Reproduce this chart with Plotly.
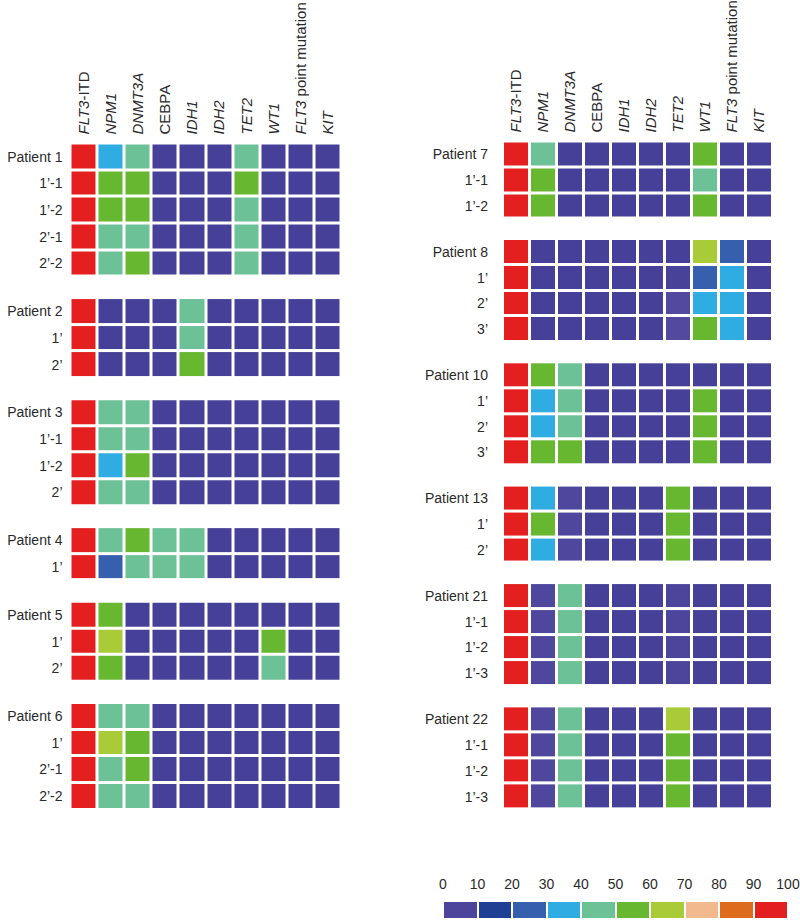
import plotly.graph_objects as go

# ---------------- data ----------------
genes = ["<i>FLT3</i>-ITD", "<i>NPM1</i>", "<i>DNMT3A</i>", "CEBPA", "<i>IDH1</i>",
         "<i>IDH2</i>", "<i>TET2</i>", "<i>WT1</i>", "<i>FLT3</i> point mutation", "<i>KIT</i>"]

# left panel groups (labels, rows of VAF % per gene)
p1_labels = ["Patient 1", "1’-1", "1’-2", "2’-1", "2’-2"]
p1 = [[95, 35, 45, 2, 2, 2, 45, 2, 2, 2],
      [95, 55, 55, 2, 2, 2, 55, 2, 2, 2],
      [95, 55, 55, 2, 2, 2, 45, 2, 2, 2],
      [95, 45, 45, 2, 2, 2, 45, 2, 2, 2],
      [95, 45, 55, 2, 2, 2, 45, 2, 2, 2]]
p2_labels = ["Patient 2", "1’", "2’"]
p2 = [[95, 2, 2, 2, 45, 2, 2, 2, 2, 2],
      [95, 2, 2, 2, 45, 2, 2, 2, 2, 2],
      [95, 2, 2, 2, 55, 2, 2, 2, 2, 2]]
p3_labels = ["Patient 3", "1’-1", "1’-2", "2’"]
p3 = [[95, 45, 45, 2, 2, 2, 2, 2, 2, 2],
      [95, 45, 45, 2, 2, 2, 2, 2, 2, 2],
      [95, 35, 55, 2, 2, 2, 2, 2, 2, 2],
      [95, 45, 45, 2, 2, 2, 2, 2, 2, 2]]
p4_labels = ["Patient 4", "1’"]
p4 = [[95, 45, 55, 45, 45, 2, 2, 2, 2, 2],
      [95, 25, 45, 45, 45, 2, 2, 2, 2, 2]]
p5_labels = ["Patient 5", "1’", "2’"]
p5 = [[95, 55, 2, 2, 2, 2, 2, 2, 2, 2],
      [95, 65, 2, 2, 2, 2, 2, 55, 2, 2],
      [95, 55, 2, 2, 2, 2, 2, 45, 2, 2]]
p6_labels = ["Patient 6", "1’", "2’-1", "2’-2"]
p6 = [[95, 45, 45, 2, 2, 2, 2, 2, 2, 2],
      [95, 65, 55, 2, 2, 2, 2, 2, 2, 2],
      [95, 45, 55, 2, 2, 2, 2, 2, 2, 2],
      [95, 45, 45, 2, 2, 2, 2, 2, 2, 2]]

# right panel groups
p7_labels = ["Patient 7", "1’-1", "1’-2"]
p7 = [[95, 45, 2, 2, 2, 2, 2, 55, 2, 2],
      [95, 55, 2, 2, 2, 2, 2, 45, 2, 2],
      [95, 55, 2, 2, 2, 2, 2, 55, 2, 2]]
p8_labels = ["Patient 8", "1’", "2’", "3’"]
p8 = [[95, 2, 2, 2, 2, 2, 2, 65, 25, 2],
      [95, 2, 2, 2, 2, 2, 3, 25, 35, 2],
      [95, 2, 2, 2, 2, 2, 8, 35, 35, 2],
      [95, 2, 2, 2, 2, 2, 8, 55, 35, 2]]
p10_labels = ["Patient 10", "1’", "2’", "3’"]
p10 = [[95, 55, 45, 2, 2, 2, 2, 2, 2, 2],
       [95, 35, 45, 2, 2, 2, 2, 55, 2, 2],
       [95, 35, 45, 2, 2, 2, 2, 55, 2, 2],
       [95, 55, 55, 2, 2, 2, 2, 55, 2, 2]]
p13_labels = ["Patient 13", "1’", "2’"]
p13 = [[95, 35, 6, 2, 2, 2, 55, 2, 2, 2],
       [95, 55, 6, 2, 2, 2, 55, 2, 2, 2],
       [95, 35, 6, 2, 2, 2, 55, 2, 2, 2]]
p21_labels = ["Patient 21", "1’-1", "1’-2", "1’-3"]
p21 = [[95, 6, 45, 2, 2, 2, 5, 2, 2, 2],
       [95, 6, 45, 2, 2, 2, 5, 2, 2, 2],
       [95, 6, 45, 2, 2, 2, 5, 2, 2, 2],
       [95, 6, 45, 2, 2, 2, 5, 2, 2, 2]]
p22_labels = ["Patient 22", "1’-1", "1’-2", "1’-3"]
p22 = [[95, 6, 45, 2, 2, 2, 65, 2, 2, 2],
       [95, 6, 45, 2, 2, 2, 55, 2, 2, 2],
       [95, 6, 45, 2, 2, 2, 55, 2, 2, 2],
       [95, 6, 45, 2, 2, 2, 55, 2, 2, 2]]

legend_edges = [0, 10, 20, 30, 40, 50, 60, 70, 80, 90, 100]
legend_mids = [5, 15, 25, 35, 45, 55, 65, 75, 85, 95]

bin_colors = ["#453F97", "#1E3F93", "#3660AD", "#2FACE2", "#6CC197",
              "#67B731", "#A9CB37", "#F2B98F", "#DE6B1D", "#E3201F"]

# ---------------- colour scale ----------------
cscale = [[0.0, "#433D95"], [0.1, "#574DA2"]]
for i, c in enumerate(bin_colors[1:], start=1):
    cscale.append([i / 10, c])
    cscale.append([(i + 1) / 10, c])

left_groups = [(p1_labels, p1), (p2_labels, p2), (p3_labels, p3),
               (p4_labels, p4), (p5_labels, p5), (p6_labels, p6)]
right_groups = [(p7_labels, p7), (p8_labels, p8), (p10_labels, p10),
                (p13_labels, p13), (p21_labels, p21), (p22_labels, p22)]

fig = go.Figure()
W, H = 800, 922
FONT = "Liberation Sans, Arial, sans-serif"
TXT = "#2a2a2a"


def add_panel(groups, xa, ya, gap):
    tickvals, ticktext = [], []
    pos = 0.0
    for labels, rows in groups:
        ys = [pos + k for k in range(len(rows))]
        fig.add_trace(go.Heatmap(
            z=rows, x=list(range(len(genes))), y=ys,
            zmin=0, zmax=100, colorscale=cscale, showscale=False,
            xgap=3, ygap=3, hoverinfo="skip", xaxis=xa, yaxis=ya))
        tickvals += ys
        ticktext += labels
        pos = ys[-1] + 1 + gap
    return tickvals, ticktext, ys[-1]


lv, lt, llast = add_panel(left_groups, "x", "y", 0.8)
rv, rt, rlast = add_panel(right_groups, "x2", "y2", 0.78)

fig.add_trace(go.Heatmap(
    z=[legend_mids], x=legend_mids, y=[0], zmin=0, zmax=100,
    colorscale=cscale, showscale=False, xgap=2, hoverinfo="skip",
    xaxis="x3", yaxis="y3"))


def px_x(a, b):
    return [a / W, b / W]


def px_y(top, bottom):
    return [1 - bottom / H, 1 - top / H]


xcommon = dict(side="top", tickangle=-90, tickvals=list(range(10)), ticktext=genes,
               showgrid=False, zeroline=False, showline=False, ticks="",
               range=[-0.5, 9.5], tickfont=dict(family=FONT, size=15, color=TXT),
               ticklabelstandoff=8, fixedrange=True, automargin=False)
ycommon = dict(showgrid=False, zeroline=False, showline=False, ticks="",
               tickfont=dict(family=FONT, size=14, color=TXT), fixedrange=True,
               automargin=False)

fig.update_layout(
    width=W, height=H, margin=dict(l=0, r=0, t=0, b=0, autoexpand=False),
    paper_bgcolor="white", plot_bgcolor="white", showlegend=False,
    xaxis=dict(domain=px_x(70.5, 341.5), anchor="y", **xcommon),
    yaxis=dict(domain=px_y(143.5, 809.5), anchor="x", range=[llast + 0.5, -0.5],
               tickvals=lv, ticktext=lt, ticklabelstandoff=7, **ycommon),
    xaxis2=dict(domain=px_x(503, 772.5), anchor="y2", **xcommon),
    yaxis2=dict(domain=px_y(141.5, 809.5), anchor="x2", range=[rlast + 0.5, -0.5],
                tickvals=rv, ticktext=rt, ticklabelstandoff=14, **ycommon),
    xaxis3=dict(domain=px_x(443, 788), anchor="y3", side="top", range=[0, 100],
                tickvals=legend_edges, ticktext=[str(v) for v in legend_edges],
                showgrid=False, zeroline=False, showline=False, ticks="",
                tickfont=dict(family=FONT, size=14, color=TXT),
                ticklabelstandoff=9, fixedrange=True, automargin=False),
    yaxis3=dict(domain=px_y(902, 918), anchor="x3", range=[-0.5, 0.5],
                visible=False, fixedrange=True),
)

fig.write_html("out.html", config={"displayModeBar": False},
               post_script="document.body.style.margin='0';document.body.style.overflow='hidden';")
